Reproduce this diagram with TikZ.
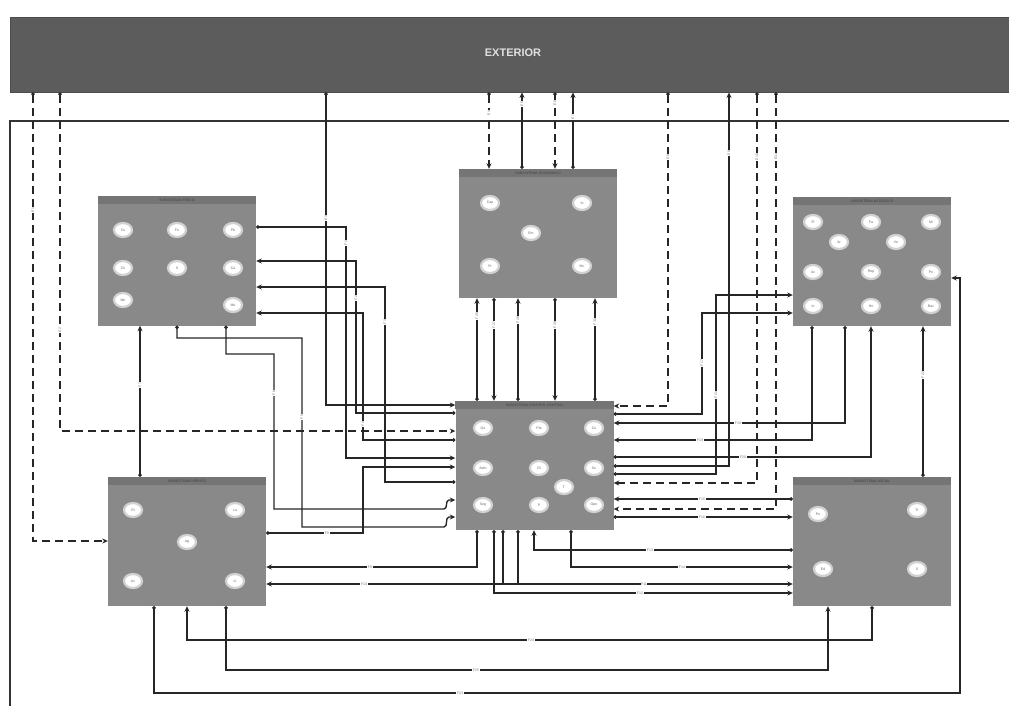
\documentclass[tikz,border=0pt]{standalone}
\usepackage{fontspec}
\setmainfont{Liberation Sans}
\usetikzlibrary{arrows.meta,shapes.geometric,calc}
\definecolor{extc}{HTML}{5C5C5C}
\definecolor{boxc}{HTML}{898989}
\definecolor{hdrc}{HTML}{757575}
\definecolor{linec}{HTML}{262626}
\tikzset{
 sub/.style={fill=boxc, minimum width=158pt, minimum height=129pt, inner sep=0pt},
 cir/.style={ellipse, fill=white, draw=black!18, line width=2.2pt, minimum width=18pt, minimum height=14pt, inner sep=0pt, font=\fontsize{3.5}{4}\selectfont, text=black!60},
 con/.style={draw=linec, line width=1.35pt, {Circle[length=3.5pt]}-{Stealth[length=5.5pt,width=5pt]}},
 dcon/.style={con, dash pattern=on 8pt off 5pt},
 lbl/.style={fill=white, inner sep=0.6pt, font=\fontsize{3.5}{4}\selectfont, text=black!55},
 vlbl/.style={lbl, rotate=90},
 hdr/.style={font=\fontsize{3.5}{4}\selectfont, text=black!75, inner sep=0pt}
}
\newcommand{\mksub}[4]{%
 \node[sub] (#1) at (#2,#3) {};
 \fill[hdrc] (#1.north west) rectangle ($(#1.north east)+(0,8)$);
 \node[hdr] (#1h) at ($(#1.north)+(0,4)$) {#4};
}
\begin{document}
\begin{tikzpicture}[x=1pt,y=-1pt]
\useasboundingbox (0,0) rectangle (1009,705);
% exterior
\node[fill=extc, draw=black!70, line width=0.8pt, minimum width=1006pt, minimum height=75pt, inner sep=0pt] (ext) at (513,54.5) {};
\node[text=white!88!black, font=\bfseries\fontsize{11}{13}\selectfont] (extt) at (513,53) {EXTERIOR};
% frame
\draw[line width=1.3pt, draw=black!80] (1015,121) -- (10,121) -- (10,710);
% subsystems
\mksub{b1}{177}{261}{SUBSISTEMA FÍSICO}
\mksub{b2}{538}{233.5}{SUBSISTEMA ECONÓMICO}
\mksub{b3}{872}{261.5}{SUBSISTEMA BIOLÓGICO}
\mksub{b4}{534.5}{465.5}{SUBSISTEMA CONTROL CENTRAL}
\mksub{b5}{187}{541.5}{SUBSISTEMA HÍDRICO}
\mksub{b6}{872}{541.5}{SUBSISTEMA SOCIAL}
% circles box1
\node[cir] (c11) at (123,230) {Cu};
\node[cir] (c12) at (177,230) {Fe};
\node[cir] (c13) at (233,230) {Pb};
\node[cir] (c14) at (123,268) {Zn};
\node[cir] (c15) at (177,268) {S};
\node[cir] (c16) at (233,268) {Ca};
\node[cir] (c17) at (123,300) {Mn};
\node[cir] (c18) at (233,305) {Mo};
% box2
\node[cir] (c21) at (490,203) {Cap};
\node[cir] (c22) at (582,203) {In};
\node[cir] (c23) at (531,233) {Em};
\node[cir] (c24) at (490,266) {Pr};
\node[cir] (c25) at (582,266) {Mc};
% box3
\node[cir] (c31) at (813,222) {Fl};
\node[cir] (c32) at (871,222) {Fa};
\node[cir] (c33) at (931,222) {Mi};
\node[cir] (c34) at (839,242) {Ar};
\node[cir] (c35) at (896,242) {Ve};
\node[cir] (c36) at (813,272) {Av};
\node[cir] (c37) at (871,272) {Rep};
\node[cir] (c38) at (931,272) {Pe};
\node[cir] (c39) at (813,306) {In};
\node[cir] (c3a) at (871,306) {Ho};
\node[cir] (c3b) at (931,306) {Bac};
% box4
\node[cir] (c41) at (483,428) {Ge};
\node[cir] (c42) at (539,428) {Pla};
\node[cir] (c43) at (594,428) {Co};
\node[cir] (c44) at (483,468) {Adm};
\node[cir] (c45) at (539,468) {Di};
\node[cir] (c46) at (594,468) {Su};
\node[cir] (c47) at (564,487) {T};
\node[cir] (c48) at (483,505) {Seg};
\node[cir] (c49) at (539,505) {P};
\node[cir] (c4a) at (594,505) {Ope};
% box5
\node[cir] (c51) at (133,510) {Ri};
\node[cir] (c52) at (235,510) {La};
\node[cir] (c53) at (187,542) {Ag};
\node[cir] (c54) at (133,581) {Ac};
\node[cir] (c55) at (235,581) {Ll};
% box6
\node[cir] (c61) at (818,514) {Po};
\node[cir] (c62) at (917,510) {Tr};
\node[cir] (c63) at (823,569) {Ed};
\node[cir] (c64) at (917,569) {S};
% ---- connectors with exterior
\draw[dcon] (ext.south -| 33,0) -- (33,541) -- (b5.west |- 0,541);
\draw[dcon] (ext.south -| 60,0) -- (60,431) -- (b4.west |- 0,431);
\draw[con] (ext.south -| 326,0) -- (326,405) -- (b4.west |- 0,405);
\draw[dcon] (ext.south -| 489,0) -- (b2.north -| 489,0);
\draw[con] (b2.north -| 522,0) -- (ext.south -| 522,0);
\draw[dcon] (ext.south -| 555,0) -- (b2.north -| 555,0);
\draw[con] (b2.north -| 573,0) -- (ext.south -| 573,0);
\draw[dcon] (ext.south -| 668,0) -- (668,406) -- (b4.east |- 0,406);
\draw[con] (b4.east |- 0,466) -- (729,466) -- (ext.south -| 729,0);
\draw[dcon] (ext.south -| 757,0) -- (757,483) -- (b4.east |- 0,483);
\draw[dcon] (ext.south -| 776,0) -- (776,509) -- (b4.east |- 0,509);
% ---- box1 <-> center
\draw[con] (b1.east |- 0,227) -- (346,227) -- (346,458) -- (b4.west |- 0,458);
\draw[con] (b4.west |- 0,413) -- (356,413) -- (356,261) -- (b1.east |- 0,261);
\draw[con] (b4.west |- 0,482) -- (385,482) -- (385,287) -- (b1.east |- 0,287);
\draw[con] (b4.west |- 0,440) -- (363,440) -- (363,313) -- (b1.east |- 0,313);
\draw[con] (b1.south -| 177,0) -- (177,338) -- (302,338) -- (302,527) -- (444,527) to[out=0,in=180] (449,517) -- (b4.west |- 0,517);
\draw[con] (b1.south -| 226,0) -- (226,354) -- (274,354) -- (274,509) -- (444,509) to[out=0,in=180] (449,500) -- (b4.west |- 0,500);
\draw[con] (b5.north -| 140,0) -- (b1.south -| 140,0);
% ---- box5 <-> center
\draw[con] (b5.east |- 0,533) -- (363,533) -- (363,467) -- (b4.west |- 0,467);
\draw[con] (b4.south -| 477,0) -- (477,567) -- (b5.east |- 0,567);
\draw[con] (b4.south -| 518,0) -- (518,584) -- (b5.east |- 0,584);
% ---- center <-> box6
\draw[con] (b4.south -| 503,0) -- (503,584) -- (b6.west |- 0,584);
\draw[con] (b4.south -| 494,0) -- (494,593) -- (b6.west |- 0,593);
\draw[con] (b6.west |- 0,550) -- (534,550) -- (b4.south -| 534,0);
\draw[con] (b4.south -| 571,0) -- (571,567) -- (b6.west |- 0,567);
\draw[con] (b6.west |- 0,499) -- (b4.east |- 0,499);
\draw[con] (b4.east |- 0,517) -- (b6.west |- 0,517);
% ---- center <-> box3
\draw[con] (b4.east |- 0,414) -- (702,414) -- (702,313) -- (b3.west |- 0,313);
\draw[con] (b3.south -| 845,0) -- (845,423) -- (b4.east |- 0,423);
\draw[con] (b3.south -| 812,0) -- (812,440) -- (b4.east |- 0,440);
\draw[con] (b4.east |- 0,457) -- (871,457) -- (b3.south -| 871,0);
\draw[con] (b4.east |- 0,474) -- (716,474) -- (716,295) -- (b3.west |- 0,295);
\draw[con] (b6.north -| 923,0) -- (b3.south -| 923,0);
% ---- bottom loops
\draw[con] (b5.south -| 154,0) -- (154,693) -- (960,693) -- (960,278) -- (b3.east |- 0,278);
\draw[con] (b6.south -| 872,0) -- (872,640) -- (187,640) -- (b5.south -| 187,0);
\draw[con] (b5.south -| 226,0) -- (226,670) -- (828,670) -- (b6.south -| 828,0);
% ---- center <-> box2
\draw[con] (b4.north -| 477,0) -- (b2.south -| 477,0);
\draw[con] (b2.south -| 494,0) -- (b4.north -| 494,0);
\draw[con] (b4.north -| 518,0) -- (b2.south -| 518,0);
\draw[con] (b2.south -| 555,0) -- (b4.north -| 555,0);
\draw[con] (b4.north -| 595,0) -- (b2.south -| 595,0);
% ---- labels
\node[vlbl] (l1) at (33,210) {E1};
\node[vlbl] (l2) at (60,330) {E2};
\node[vlbl] (l3) at (326,218) {E3};
\node[vlbl] (l4) at (489,113) {E4};
\node[vlbl] (l5) at (522,104) {E5};
\node[vlbl] (l6) at (555,103) {E6};
\node[vlbl] (l7) at (573,117) {E7};
\node[vlbl] (l8) at (668,157) {E8};
\node[vlbl] (l9) at (729,153) {E9};
\node[vlbl] (l10) at (757,157) {E10};
\node[vlbl] (l11) at (776,157) {E11};
\node[vlbl] (l12) at (346,243) {F1};
\node[vlbl] (l13) at (356,298) {F2};
\node[vlbl] (l14) at (385,322) {F3};
\node[vlbl] (l15) at (363,424) {F4};
\node[vlbl] (l16) at (302,417) {F5};
\node[vlbl] (l17) at (274,393) {F6};
\node[vlbl] (l18) at (140,385) {F7};
\node[lbl] (l19) at (327,533) {F8};
\node[lbl] (l20) at (370,567) {F9};
\node[lbl] (l21) at (364,584) {F10};
\node[lbl] (l22) at (644,584) {F11};
\node[lbl] (l23) at (640,593) {F12};
\node[lbl] (l24) at (650,550) {F13};
\node[lbl] (l25) at (682,567) {F14};
\node[lbl] (l26) at (702,499) {F15};
\node[lbl] (l27) at (702,517) {F16};
\node[vlbl] (l28) at (702,363) {F17};
\node[lbl] (l29) at (738,423) {F18};
\node[lbl] (l30) at (700,440) {F19};
\node[lbl] (l31) at (743,457) {F20};
\node[vlbl] (l32) at (716,395) {F21};
\node[vlbl] (l33) at (923,375) {F22};
\node[lbl] (l34) at (460,693) {F23};
\node[lbl] (l35) at (531,640) {F24};
\node[lbl] (l36) at (476,670) {F25};
\node[vlbl] (l37) at (477,316) {F26};
\node[vlbl] (l38) at (494,325) {F27};
\node[vlbl] (l39) at (518,320) {F28};
\node[vlbl] (l40) at (555,325) {F29};
\node[vlbl] (l41) at (595,322) {F30};
\end{tikzpicture}
\end{document}
